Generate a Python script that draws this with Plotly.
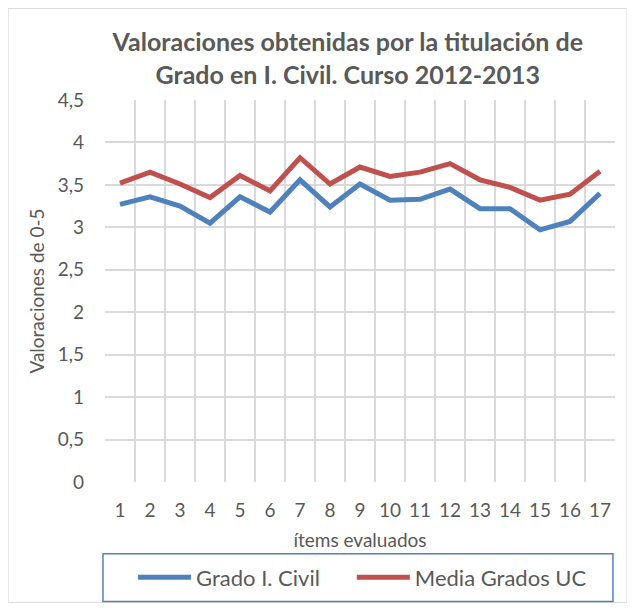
import plotly.graph_objects as go

# data
items = list(range(1, 18))
grado_civil = [3.27, 3.36, 3.25, 3.05, 3.36, 3.18, 3.56, 3.24, 3.51,
               3.32, 3.33, 3.45, 3.22, 3.22, 2.97, 3.07, 3.40]
media_uc = [3.52, 3.65, 3.51, 3.35, 3.61, 3.43, 3.82, 3.51, 3.71,
            3.60, 3.65, 3.75, 3.56, 3.47, 3.32, 3.39, 3.66]
y_ticks = [0, 0.5, 1, 1.5, 2, 2.5, 3, 3.5, 4, 4.5]
y_labels = ['0', '0,5', '1', '1,5', '2', '2,5', '3', '3,5', '4', '4,5']

font = 'Lato, Open Sans, sans-serif'
txt = '#595959'

fig = go.Figure()
fig.add_trace(go.Scatter(x=items, y=grado_civil, name='Grado I. Civil', mode='lines',
                         line=dict(color='#4F81BD', width=5), legend='legend'))
fig.add_trace(go.Scatter(x=items, y=media_uc, name='Media Grados UC', mode='lines',
                         line=dict(color='#C0504D', width=5), legend='legend2'))

leg = dict(orientation='h', xanchor='left', y=-0.25, yanchor='middle',
           borderwidth=0, bgcolor='rgba(0,0,0,0)', font=dict(size=22, color=txt), itemwidth=53)

# the page body adds an 8px margin, so the figure is 8px smaller and margins shifted
fig.update_layout(
    width=627, height=602,
    margin=dict(l=97, r=20, t=92, b=126),
    paper_bgcolor='white', plot_bgcolor='white',
    font=dict(family=font, color=txt, size=18),
    title=dict(text='<b>Valoraciones obtenidas por la titulación de<br>Grado en I. Civil. Curso 2012-2013</b>',
               x=0.542, xanchor='center', y=0.928, yanchor='top',
               font=dict(size=25, color=txt)),
    xaxis=dict(range=[0.5, 17.5], tickmode='array', tickvals=items, automargin=False,
               showgrid=False, zeroline=False, showline=False, ticks='', ticklabelstandoff=15,
               minor=dict(tick0=0.5, dtick=1, showgrid=True, gridcolor='#d9d9d9', gridwidth=1.5),
               title=dict(text='ítems evaluados', standoff=13, font=dict(size=19)),
               tickfont=dict(size=19)),
    yaxis=dict(range=[0, 4.5], tickmode='array', tickvals=y_ticks, ticktext=y_labels,
               automargin=False,
               showgrid=True, gridcolor='#d9d9d9', gridwidth=1.5, zeroline=False,
               showline=False, ticks='', ticklabelstandoff=20,
               title=dict(text='Valoraciones de 0-5', standoff=7, font=dict(size=19)),
               tickfont=dict(size=19)),
    legend=dict(leg, x=0.055),
    legend2=dict(leg, x=0.484),
    showlegend=True,
)

# outer chart border
fig.add_shape(type='rect', xref='paper', yref='paper', x0=-0.19, x1=1.0235, y0=-0.315, y1=1.2396,
              line=dict(color='#d9d9d9', width=1), layer='below')
# legend frame
fig.add_shape(type='rect', xref='paper', yref='paper', x0=-0.004, x1=0.996, y0=-0.3125, y1=-0.1875,
              line=dict(color='#4F81BD', width=1.5), layer='below')

fig.write_html('out.html')
